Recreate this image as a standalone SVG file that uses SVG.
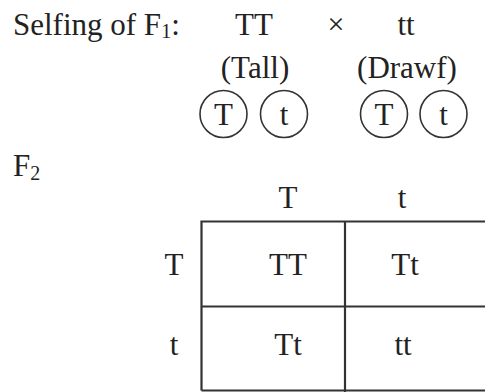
<svg xmlns="http://www.w3.org/2000/svg" width="485" height="392" viewBox="0 0 485 392">
<style>
text{font-family:"Liberation Serif","Times New Roman",serif;font-size:31px;fill:#222}
.m{text-anchor:middle}
.sub{font-size:20px}
.c{fill:none;stroke:#333;stroke-width:1.6}
.g{stroke:#333;stroke-width:2.2;fill:none}
</style>
<rect width="485" height="392" fill="#fff"/>
<g id="title">
<text x="13" y="35">Selfing of F<tspan class="sub" dy="3">1</tspan><tspan dy="-3">:</tspan></text>
</g>
<g id="parent1">
<text class="m" x="254" y="35">TT</text>
<text class="m" x="255" y="78">(Tall)</text>
</g>
<g id="cross"><text class="m" x="336" y="34" style="font-size:30px">×</text></g>
<g id="parent2">
<text class="m" x="406" y="35">tt</text>
<text class="m" x="407" y="78">(Drawf)</text>
</g>
<g id="gamete1"><circle class="c" cx="223.5" cy="114" r="23.5"/><text class="m" x="223.5" y="125">T</text></g>
<g id="gamete2"><circle class="c" cx="284" cy="114" r="23.5"/><text class="m" x="284" y="125">t</text></g>
<g id="gamete3"><circle class="c" cx="384" cy="114" r="23.5"/><text class="m" x="384" y="125">T</text></g>
<g id="gamete4"><circle class="c" cx="443.5" cy="114" r="23.5"/><text class="m" x="443.5" y="125">t</text></g>
<g id="f2"><text x="13" y="176">F<tspan class="sub" dy="4">2</tspan></text></g>
<g id="connectors">
<path class="g" d="M201.5 390.5V221.5H485M201.5 306.5H485M345 221.5V392M201.5 390.5H485"/>
</g>
<g id="headers">
<text class="m" x="288" y="208">T</text>
<text class="m" x="402" y="208">t</text>
<text class="m" x="174" y="275">T</text>
<text class="m" x="174" y="355">t</text>
</g>
<g id="cells">
<text class="m" x="288" y="275">TT</text>
<text class="m" x="405" y="275">Tt</text>
<text class="m" x="288" y="355">Tt</text>
<text class="m" x="403" y="355">tt</text>
</g>
</svg>
